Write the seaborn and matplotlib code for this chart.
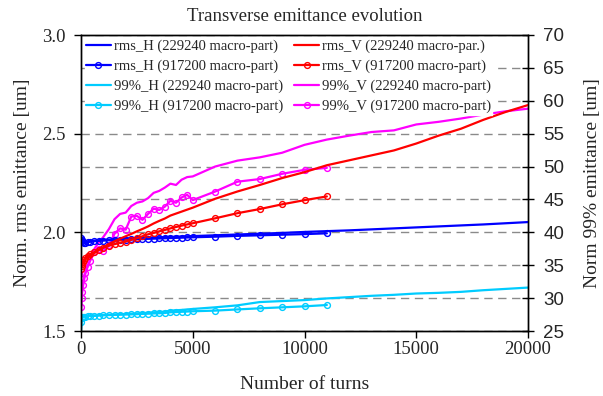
import matplotlib
matplotlib.use("Agg")
import matplotlib.pyplot as plt
import seaborn as sns
import numpy as np

# ---------------- data ----------------
turns_a = [0, 50, 100, 200, 400, 600, 800, 1000, 1250, 1500, 1750, 2000, 2250, 2500, 2750,
           3000, 3250, 3500, 3750, 4000, 4250, 4500, 4750, 5000, 6000, 7000, 8000, 9000,
           10000, 11000, 12000, 13000, 14000, 15000, 16000, 17000, 18000, 19000, 20000]
turns_b = [0, 25, 50, 100, 150, 200, 300, 400, 600, 800, 1000, 1250, 1500, 1750, 2000, 2250,
           2500, 2750, 3000, 3250, 3500, 3750, 4000, 4250, 4500, 4750, 5000, 6000, 7000,
           8000, 9000, 10000, 11000]

rms_h_a = [1.975, 1.960, 1.952, 1.950, 1.955, 1.958, 1.960, 1.962, 1.963, 1.965, 1.966, 1.968,
           1.969, 1.970, 1.971, 1.973, 1.974, 1.975, 1.976, 1.977, 1.978, 1.979, 1.980, 1.981,
           1.985, 1.989, 1.993, 1.997, 2.002, 2.006, 2.010, 2.015, 2.020, 2.025, 2.030, 2.035,
           2.040, 2.046, 2.052]
rms_h_b = [1.970, 1.962, 1.955, 1.950, 1.948, 1.948, 1.950, 1.952, 1.955, 1.957, 1.958, 1.960,
           1.961, 1.962, 1.963, 1.964, 1.965, 1.966, 1.967, 1.968, 1.969, 1.970, 1.971, 1.972,
           1.973, 1.974, 1.975, 1.978, 1.982, 1.985, 1.988, 1.991, 1.995]
rms_v_a = [1.820, 1.835, 1.850, 1.865, 1.880, 1.895, 1.910, 1.925, 1.940, 1.955, 1.968, 1.980,
           1.992, 2.005, 2.017, 2.030, 2.045, 2.058, 2.070, 2.085, 2.095, 2.105, 2.115, 2.125,
           2.170, 2.207, 2.240, 2.275, 2.305, 2.340, 2.365, 2.390, 2.415, 2.450, 2.490, 2.525,
           2.570, 2.610, 2.645]
rms_v_b = [1.815, 1.830, 1.840, 1.850, 1.860, 1.868, 1.880, 1.888, 1.900, 1.913, 1.922, 1.932,
           1.940, 1.947, 1.953, 1.962, 1.970, 1.980, 1.990, 1.997, 2.005, 2.012, 2.020, 2.027,
           2.034, 2.040, 2.046, 2.071, 2.097, 2.118, 2.142, 2.163, 2.182]
p99_h_a = [25.0, 27.1, 27.2, 27.25, 27.3, 27.35, 27.4, 27.43, 27.47, 27.5, 27.55, 27.6, 27.63,
           27.68, 27.72, 27.78, 27.84, 27.9, 27.95, 28.1, 28.15, 28.2, 28.28, 28.35, 28.6, 28.9,
           29.4, 29.55, 29.7, 29.95, 30.15, 30.35, 30.5, 30.7, 30.8, 30.95, 31.2, 31.4, 31.6]
p99_h_b = [26.3, 27.0, 27.1, 27.15, 27.2, 27.2, 27.25, 27.3, 27.3, 27.35, 27.4, 27.42, 27.45,
           27.48, 27.5, 27.53, 27.56, 27.6, 27.63, 27.67, 27.7, 27.74, 27.85, 27.88, 27.92,
           27.96, 28.0, 28.1, 28.28, 28.45, 28.6, 28.75, 28.95]
p99_v_a = [28.0, 31.0, 32.5, 34.0, 35.8, 37.5, 38.5, 39.3, 40.5, 42.0, 42.8, 43.0, 44.0, 44.5,
           44.7, 45.2, 46.0, 46.3, 46.8, 47.4, 47.2, 48.0, 48.4, 48.5, 50.0, 50.9, 51.4, 52.1,
           53.3, 54.1, 54.7, 55.25, 55.5, 56.4, 56.8, 57.3, 57.9, 58.4, 58.8]
p99_v_b = [28.7, 30.0, 31.0, 32.0, 33.0, 33.8, 34.8, 35.6, 37.0, 37.5, 37.2, 38.0, 39.8, 40.6,
           40.4, 42.4, 42.5, 41.9, 42.8, 43.6, 43.4, 43.9, 44.8, 44.5, 45.3, 45.7, 44.9, 46.2,
           47.7, 48.1, 48.9, 49.5, 49.8]

labels = ["rms_H (229240 macro-part)", "rms_H (917200 macro-part)",
          "99%_H (229240 macro-part)", "99%_H (917200 macro-part)",
          "rms_V (229240 macro-par.)", "rms_V (917200 macro-part)",
          "99%_V (229240 macro-part)", "99%_V (917200 macro-part)"]
x_ticks = [0, 5000, 10000, 15000, 20000]
left_ticks = [1.5, 2.0, 2.5, 3.0]
right_ticks = list(range(25, 71, 5))

BLUE, RED, CYAN, MAG = "#0000FF", "#FF0000", "#00CCFF", "#FF00FF"
SERIF = ["Liberation Serif", "DejaVu Serif"]
SANS = ["Liberation Sans", "DejaVu Sans"]

sns.set_theme(style="white")
plt.rcParams["font.family"] = SERIF

fig = plt.figure(figsize=(6.03, 3.96), dpi=100)
ax1 = fig.add_axes([81 / 603, 1 - 331 / 396, 447 / 603, 296 / 396])
ax2 = ax1.twinx()
ax1.set_zorder(ax2.get_zorder() + 1)
ax1.patch.set_visible(False)
ax2.patch.set_facecolor("white")

lw = 1.6
ms = 4.2


def draw(ax, x, y, color, label, marker):
    kw = dict(x=x, y=y, ax=ax, color=color, lw=lw, label=label, estimator=None,
              sort=False)
    if marker:
        kw.update(marker="o", markersize=ms, markerfacecolor="none",
                  markeredgecolor=color, markeredgewidth=1.0)
    sns.lineplot(**kw)


draw(ax1, turns_a, rms_h_a, BLUE, labels[0], False)
draw(ax1, turns_b, rms_h_b, BLUE, labels[1], True)
draw(ax2, turns_a, p99_h_a, CYAN, labels[2], False)
draw(ax2, turns_b, p99_h_b, CYAN, labels[3], True)
draw(ax1, turns_a, rms_v_a, RED, labels[4], False)
draw(ax1, turns_b, rms_v_b, RED, labels[5], True)
draw(ax2, turns_a, p99_v_a, MAG, labels[6], False)
draw(ax2, turns_b, p99_v_b, MAG, labels[7], True)

for ax in (ax1, ax2):
    if ax.get_legend() is not None:
        ax.get_legend().remove()

ax1.set_xlim(0, 20000)
ax1.set_ylim(1.5, 3.0)
ax2.set_ylim(25, 70)
ax1.set_xticks(x_ticks)
ax1.set_xticklabels([str(t) for t in x_ticks], fontsize=13.5, family=SERIF)
ax1.set_yticks(left_ticks)
ax1.set_yticklabels([f"{t:.1f}" for t in left_ticks], fontsize=13.5, family=SERIF)
ax2.set_yticks(right_ticks)
ax2.set_yticklabels([str(t) for t in right_ticks], fontsize=13.5, family=SANS)

ax2.grid(axis="y", color="#8a8a8a", linestyle=(0, (6, 4)), linewidth=1.0)
ax1.grid(False)
ax2.grid(axis="x", visible=False)

ax1.tick_params(axis="x", direction="out", length=5, width=1, color="black", pad=2,
                bottom=True)
ax1.tick_params(axis="y", direction="out", length=5, width=1, color="black", pad=6,
                left=True)
ax2.tick_params(axis="y", direction="inout", length=8, width=1, color="black", pad=7,
                right=True)
for ax in (ax1, ax2):
    for s in ax.spines.values():
        s.set_color("black")
        s.set_linewidth(1.0)

ax1.set_xlabel("Number of turns", fontsize=14, family=SERIF, labelpad=13)
ax1.set_ylabel("Norm. rms emittance [um]", fontsize=14, family=SERIF, labelpad=8)
ax2.set_ylabel("Norm 99% emittance [um]", fontsize=14, family=SERIF, labelpad=14)
ax1.set_title("Transverse emittance evolution", fontsize=13.5, family=SERIF, pad=10)

h1, l1 = ax1.get_legend_handles_labels()
h2, l2 = ax2.get_legend_handles_labels()
hmap = dict(zip(l1 + l2, h1 + h2))
leg = ax1.legend([hmap[l] for l in labels], labels, ncol=2, loc="upper left",
                 frameon=True, prop={"family": SERIF, "size": 10.5}, handlelength=1.7,
                 handletextpad=0.2, columnspacing=0.8, labelspacing=0.45,
                 borderaxespad=0.25, borderpad=0.08, fancybox=False,
                 bbox_to_anchor=(0.0, 1.0))
leg.get_frame().set_facecolor("white")
leg.get_frame().set_edgecolor("white")
leg.get_frame().set_alpha(1.0)

fig.savefig("out.png", dpi=100)
